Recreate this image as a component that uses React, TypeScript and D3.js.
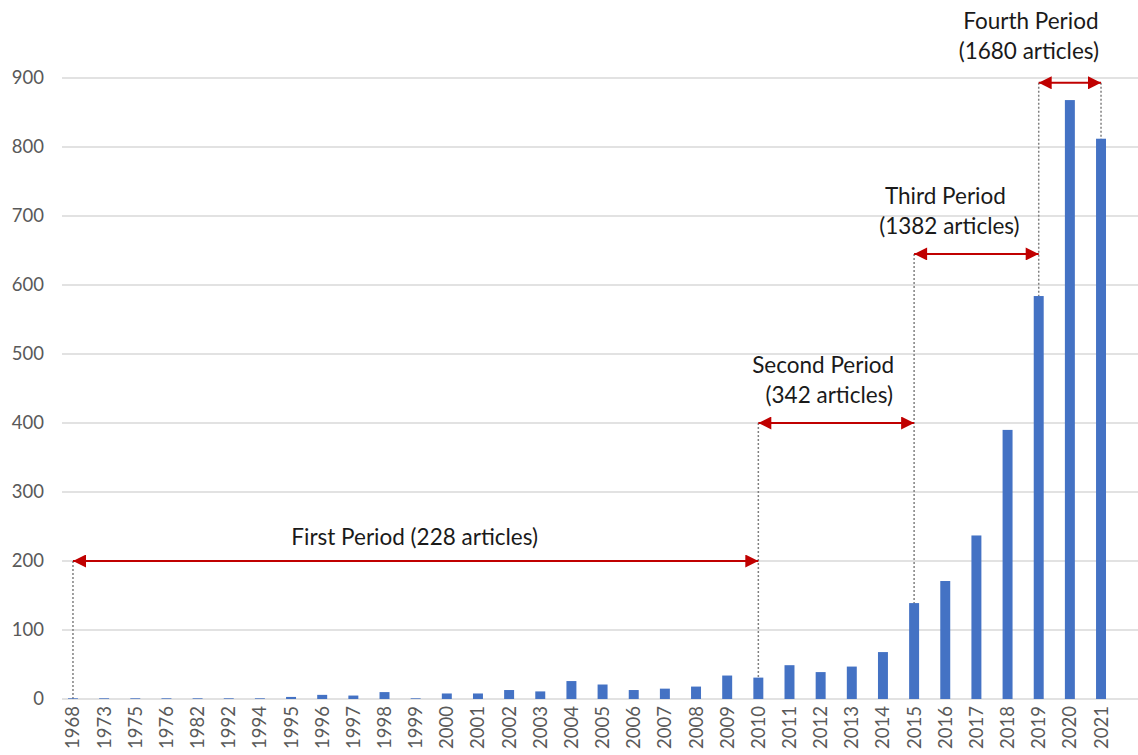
import React from "react";
import * as d3 from "d3";

const years = ["1968","1973","1975","1976","1982","1992","1994","1995","1996","1997","1998","1999","2000","2001","2002","2003","2004","2005","2006","2007","2008","2009","2010","2011","2012","2013","2014","2015","2016","2017","2018","2019","2020","2021"];
const counts = [1,1,1,1,1,1,1,3,6,5,10,1,8,8,13,11,26,21,13,15,18,34,31,49,39,47,68,139,171,237,390,584,868,812];
const yTicks = [0,100,200,300,400,500,600,700,800,900];

// periods: start year, end year, arrow level, label lines
const periodStart = ["1968","2010","2015","2019"];
const periodEnd = ["2010","2015","2019","2021"];
const periodLevel = [200,400,645,893];
const periodLabels = [["First Period (228 articles)"],["Second Period","(342 articles)"],["Third Period","(1382 articles)"],["Fourth Period","(1680 articles)"]];

const W = 1138, H = 755;

export default function App() {
  const x = d3.scaleBand<string>().domain(years).range([57.4, 1116.6]).paddingInner(0.68).paddingOuter(0.34);
  const y = d3.scaleLinear().domain([0, 900]).range([699, 78]);
  const cx = (k: string) => (x(k) as number) + x.bandwidth() / 2;
  const red = "#C00000";
  const font = "Lato, 'Open Sans', sans-serif";

  const labelPos = [
    { x: (cx("1968") + cx("2010")) / 2 - 1, y: y(200) - 16, dx2: 0 },
    { x: (cx("2010") + cx("2015")) / 2 - 13, y: y(400) - 50, dx2: 6 },
    { x: (cx("2015") + cx("2019")) / 2 - 31, y: y(645) - 50, dx2: 4 },
    { x: (cx("2019") + cx("2021")) / 2 - 39, y: y(893) - 54, dx2: -2 },
  ];

  return (
    <svg width={W} height={H} style={{ position: "absolute", left: 0, top: 0, background: "#fff" }}>
      <defs>
        <marker id="ah" viewBox="0 0 10 10" refX="10" refY="5" markerWidth="7" markerHeight="6.5" markerUnits="strokeWidth" orient="auto-start-reverse">
          <path d="M0,0 L10,5 L0,10 z" fill={red} />
        </marker>
      </defs>
      {yTicks.map((t) => (
        <g key={t}>
          <line x1={62} x2={W} y1={y(t)} y2={y(t)} stroke="#D9D9D9" strokeWidth={1.5} />
          <text x={44} y={y(t)} dy="0.35em" textAnchor="end" fontFamily={font} fontSize={18.5} fill="#595959">{t}</text>
        </g>
      ))}
      {periodStart.map((s, i) => (
        <line key={"d" + i} x1={cx(s)} x2={cx(s)} y1={y(periodLevel[i])} y2={y(0)} stroke="#808080" strokeWidth={1.5} strokeDasharray="2,2" />
      ))}
      <line x1={cx("2021")} x2={cx("2021")} y1={y(893)} y2={y(0)} stroke="#808080" strokeWidth={1.5} strokeDasharray="2,2" />
      {years.map((k, i) => (
        <rect key={k} x={x(k)} width={x.bandwidth()} y={y(counts[i])} height={y(0) - y(counts[i])} fill="#4472C4" />
      ))}
      {years.map((k) => (
        <text key={"l" + k} transform={`translate(${cx(k)},706) rotate(-90)`} dy="0.35em" textAnchor="end" fontFamily={font} fontSize={18.5} fill="#595959">{k}</text>
      ))}
      {periodStart.map((s, i) => (
        <line key={"a" + i} x1={cx(s)} x2={cx(periodEnd[i])} y1={y(periodLevel[i])} y2={y(periodLevel[i])} stroke={red} strokeWidth={2} markerStart="url(#ah)" markerEnd="url(#ah)" />
      ))}
      {periodLabels.map((lines, i) => (
        <text key={"t" + i} x={labelPos[i].x} y={labelPos[i].y} textAnchor="middle" fontFamily={font} fontSize={22.5} fill="#1a1a1a">
          {lines.map((ln, j) => (
            <tspan key={j} x={labelPos[i].x + (j === 1 ? labelPos[i].dx2 : 0)} dy={j === 0 ? 0 : 30}>{ln}</tspan>
          ))}
        </text>
      ))}
    </svg>
  );
}
